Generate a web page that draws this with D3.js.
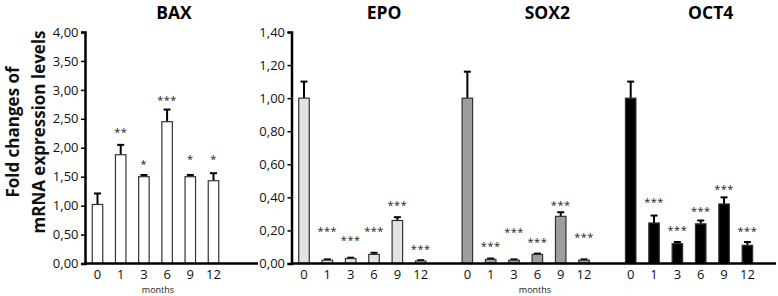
<!DOCTYPE html>
<html><head><meta charset="utf-8">
<script src="https://cdn.jsdelivr.net/npm/d3@7"></script>
<style>body{margin:0;background:#fff}svg{display:block}text{font-family:"Open Sans",sans-serif}</style>
</head><body><svg id="c" width="778" height="296"></svg>
<script>
const months = ["0","1","3","6","9","12"];
const baxTicks = [0,0.5,1,1.5,2,2.5,3,3.5,4];
const rightTicks = [0,0.2,0.4,0.6,0.8,1.0,1.2,1.4];
const genes = ["EPO","SOX2","OCT4"];
const baxMean = [1.02,1.88,1.50,2.45,1.50,1.43];
const baxErr  = [1.21,2.05,1.53,2.66,1.53,1.56];
const baxSig  = ["","**","*","***","*","*"];
const baxSigY = [0,2.31,1.76,2.86,1.85,1.85];
const epoMean = [1.00,0.02,0.03,0.055,0.26,0.015];
const epoErr  = [1.10,0.025,0.035,0.065,0.28,0.02];
const sox2Mean= [1.00,0.025,0.02,0.055,0.285,0.02];
const sox2Err = [1.16,0.03,0.025,0.06,0.31,0.025];
const oct4Mean= [1.00,0.245,0.12,0.24,0.36,0.11];
const oct4Err = [1.10,0.29,0.13,0.26,0.40,0.13];
const sigRight = ["","***","***","***","***","***"];
const epoSigY  = [0,0.21,0.16,0.21,0.37,0.105];
const sox2SigY = [0,0.12,0.205,0.145,0.37,0.175];
const oct4SigY = [0,0.39,0.22,0.33,0.465,0.21];
const geneFill = ["#e3e3e3","#9e9e9e","#000000"];

const svg = d3.select("#c");
const fmt = d => d.toFixed(2).replace(".", ",");
const y0 = 263.5, yTop = 32;

function yAxis(x, y, ticks) {
  const g = svg.append("g").attr("transform", `translate(${x},0)`)
    .call(d3.axisLeft(y).tickValues(ticks).tickFormat(fmt).tickSize(4).tickPadding(2.5));
  g.select(".domain").attr("stroke", "#000").attr("stroke-width", 2.5);
  g.selectAll(".tick line").attr("stroke", "#000").attr("stroke-width", 1.5);
  g.selectAll(".tick text").attr("font-size", 13).attr("font-family", "Open Sans").attr("fill", "#111");
  return g;
}
function xLine(x1, x2) {
  svg.append("line").attr("x1", x1 - 1).attr("x2", x2).attr("y1", y0).attr("y2", y0)
    .attr("stroke", "#000").attr("stroke-width", 2.5);
}
function bars(x, y, mean, err, fill, sig, sigY) {
  const g = svg.append("g");
  const bw = 10.5;
  months.forEach((m, i) => {
    const cx = x(m);
    g.append("line").attr("x1", cx).attr("x2", cx).attr("y1", y(mean[i])).attr("y2", y(err[i]))
      .attr("stroke", "#000").attr("stroke-width", 2);
    g.append("line").attr("x1", cx - 3.5).attr("x2", cx + 3.5).attr("y1", y(err[i])).attr("y2", y(err[i]))
      .attr("stroke", "#000").attr("stroke-width", 2);
    g.append("rect").attr("x", cx - bw / 2).attr("y", y(mean[i])).attr("width", bw)
      .attr("height", y(0) - y(mean[i])).attr("fill", fill).attr("stroke", "#333").attr("stroke-width", 1.2);
    if (sig[i]) {
      g.append("text").attr("x", cx).attr("y", y(sigY[i]) + 6.5).attr("text-anchor", "middle")
        .attr("font-size", 11).attr("fill", "#222").attr("letter-spacing", 0.5).text(sig[i]);
    }
    g.append("text").attr("x", cx).attr("y", 278.5).attr("text-anchor", "middle")
      .attr("font-size", 13).attr("fill", "#111").text(m);
  });
}

// Panel A: BAX
const yA = d3.scaleLinear().domain([0, 4]).range([y0, yTop]);
const xA = d3.scalePoint().domain(months).range([97.5, 213.5]);
bars(xA, yA, baxMean, baxErr, "#ffffff", baxSig, baxSigY);
xLine(85, 258);
yAxis(85, yA, baxTicks);
svg.append("text").attr("x", 174).attr("y", 18.5).attr("text-anchor", "middle")
  .attr("font-size", 17.5).attr("font-weight", "bold").text("BAX");
svg.append("text").attr("x", 158).attr("y", 293).attr("text-anchor", "middle")
  .attr("font-size", 9).attr("fill", "#222").text("months");

// Y title
const yt = svg.append("text").attr("transform", "translate(0,132) rotate(-90)")
  .attr("text-anchor", "middle").attr("font-size", 17).attr("font-weight", "bold").attr("fill", "#111");
yt.append("tspan").attr("x", 0).attr("y", 18.5).text("Fold changes of");
yt.append("tspan").attr("x", 0).attr("y", 44.5).text("mRNA expression levels");

// Panel B
const yB = d3.scaleLinear().domain([0, 1.4]).range([y0, yTop]);
const gx = d3.scalePoint().domain(genes).range([304, 630.7]);
const data = [[epoMean, epoErr, epoSigY], [sox2Mean, sox2Err, sox2SigY], [oct4Mean, oct4Err, oct4SigY]];
genes.forEach((gname, k) => {
  const start = gx(gname);
  const x = d3.scalePoint().domain(months).range([start, start + 116.7]);
  bars(x, yB, data[k][0], data[k][1], geneFill[k], sigRight, data[k][2]);
  svg.append("text").attr("x", start + 80).attr("y", 18.5).attr("text-anchor", "middle")
    .attr("font-size", 17.5).attr("font-weight", "bold").text(gname);
});
xLine(291.5, 776);
yAxis(291.5, yB, rightTicks);
svg.append("text").attr("x", 535).attr("y", 293).attr("text-anchor", "middle")
  .attr("font-size", 9).attr("fill", "#222").text("months");
</script></body></html>
